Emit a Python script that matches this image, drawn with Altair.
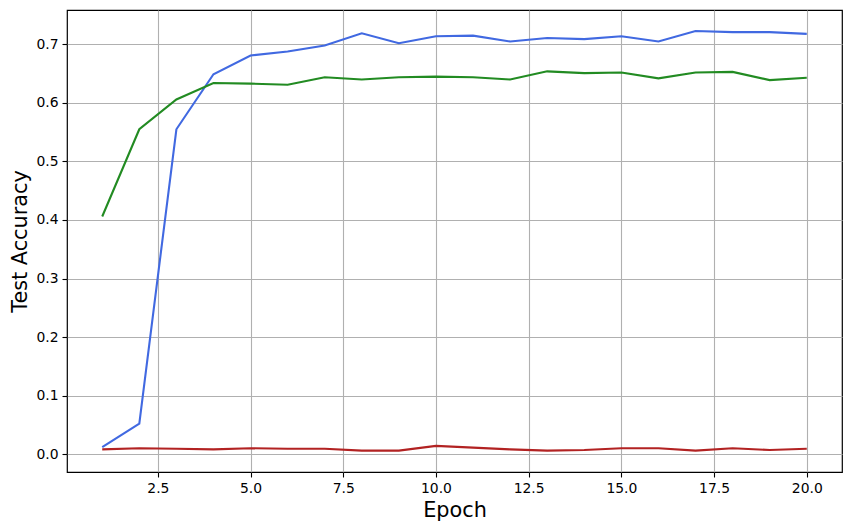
import altair as alt
import pandas as pd

epochs = list(range(1, 21))
blue_vals = [0.012, 0.052, 0.555, 0.649, 0.681, 0.688, 0.698, 0.719, 0.702, 0.714,
             0.715, 0.705, 0.711, 0.709, 0.714, 0.705, 0.723, 0.721, 0.721, 0.718]
green_vals = [0.406, 0.555, 0.606, 0.634, 0.633, 0.631, 0.644, 0.640, 0.644, 0.645,
              0.644, 0.640, 0.654, 0.651, 0.652, 0.642, 0.652, 0.653, 0.639, 0.643]
red_vals = [0.008, 0.010, 0.009, 0.008, 0.010, 0.009, 0.009, 0.006, 0.006, 0.014,
            0.011, 0.008, 0.006, 0.007, 0.010, 0.010, 0.006, 0.010, 0.007, 0.009]
series_names = ["blue", "green", "red"]
series_colors = ["#4169E1", "#228B22", "#B22222"]
x_ticks = [2.5, 5.0, 7.5, 10.0, 12.5, 15.0, 17.5, 20.0]
y_ticks = [0.0, 0.1, 0.2, 0.3, 0.4, 0.5, 0.6, 0.7]

rows = []
for name, vals in zip(series_names, [blue_vals, green_vals, red_vals]):
    for e, v in zip(epochs, vals):
        rows.append({"epoch": e, "acc": v, "series": name})
df = pd.DataFrame(rows)

font = "DejaVu Sans"
chart = alt.Chart(df).mark_line(strokeWidth=2.1).encode(
    x=alt.X("epoch:Q",
            scale=alt.Scale(domain=[0.05, 20.95], nice=False, zero=False),
            axis=alt.Axis(title="Epoch", values=x_ticks, format=".1f",
                          grid=True, gridColor="#b0b0b0", gridWidth=1.1,
                          domain=False, tickColor="black", tickSize=5, tickWidth=1.1,
                          labelPadding=4, labelFont=font, labelFontSize=13.9,
                          labelColor="black", labelFlush=False,
                          titleFont=font, titleFontSize=20.8, titleFontWeight="normal",
                          titleColor="black", titlePadding=6)),
    y=alt.Y("acc:Q",
            scale=alt.Scale(domain=[-0.0306, 0.7588], nice=False, zero=False),
            axis=alt.Axis(title="Test Accuracy", values=y_ticks, format=".1f",
                          grid=True, gridColor="#b0b0b0", gridWidth=1.1,
                          domain=False, tickColor="black", tickSize=5, tickWidth=1.1,
                          labelPadding=4, labelFont=font, labelFontSize=13.9,
                          labelColor="black", labelFlush=False,
                          titleFont=font, titleFontSize=20.8, titleFontWeight="normal",
                          titleColor="black", titlePadding=5)),
    color=alt.Color("series:N",
                    scale=alt.Scale(domain=series_names, range=series_colors),
                    legend=None),
    detail="series:N",
).properties(
    width=775, height=462,
    background="white",
    autosize=alt.AutoSizeParams(type="none"),
    padding={"left": 59, "top": 2, "right": 2, "bottom": 51},
).configure_view(
    stroke="#000000", strokeWidth=1.2, strokeOpacity=1
)

chart.save("out.html", embed_options={"renderer": "svg", "actions": False})
